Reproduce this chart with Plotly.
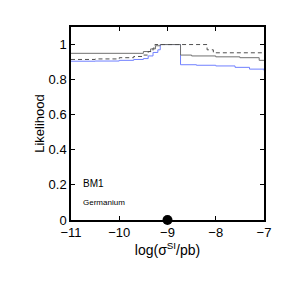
import plotly.graph_objects as go

# Data
solid_x = [-11, -9.5, -9.35, -9.25, -9.15, -8.73, -8.5, -8.0, -7.5, -7.1, -7]
solid_y = [0.95, 0.96, 0.975, 0.993, 1.0, 0.94, 0.935, 0.93, 0.925, 0.91, 0.91]

blue_x = [-11, -10.5, -10, -9.7, -9.5, -9.4, -9.3, -9.2, -9.15, -8.73, -8.4, -8.0, -7.6, -7.3, -7]
blue_y = [0.905, 0.906, 0.91, 0.915, 0.92, 0.935, 0.955, 0.97, 1.0, 0.885, 0.882, 0.878, 0.87, 0.86, 0.852]

dash_x = [-11, -10.5, -10, -9.7, -9.5, -9.4, -9.3, -9.26, -8.18, -8.05, -7]
dash_y = [0.915, 0.918, 0.925, 0.932, 0.94, 0.96, 0.98, 1.0, 0.97, 0.953, 0.953]

marker_x = [-9]
marker_y = [0]

x_ticks = [-11, -10, -9, -8, -7]
x_tick_text = ["\u221211", "\u221210", "\u22129", "\u22128", "\u22127"]
y_ticks = [0, 0.2, 0.4, 0.6, 0.8, 1]
y_tick_text = ["0", "0.2", "0.4", "0.6", "0.8", "1"]

fig = go.Figure()
fig.add_trace(go.Scatter(x=blue_x, y=blue_y, mode="lines", line_shape="hv",
                         line=dict(color="#7080ff", width=1), hoverinfo="skip"))
fig.add_trace(go.Scatter(x=solid_x, y=solid_y, mode="lines", line_shape="hv",
                         line=dict(color="#707070", width=1), hoverinfo="skip"))
fig.add_trace(go.Scatter(x=dash_x, y=dash_y, mode="lines", line_shape="hv",
                         line=dict(color="#505050", width=1, dash="4px,3px"), hoverinfo="skip"))
fig.add_trace(go.Scatter(x=marker_x, y=marker_y, mode="markers", cliponaxis=False,
                         marker=dict(color="black", size=10), hoverinfo="skip"))

axis_common = dict(showline=True, linecolor="black", linewidth=1.5, mirror="ticks",
                   ticks="inside", ticklen=4, tickwidth=1, tickcolor="black",
                   showgrid=False, zeroline=False,
                   tickfont=dict(family="Liberation Sans, Arial", size=13, color="black"))

fig.update_layout(
    width=291, height=291,
    margin=dict(l=63, r=35, t=19, b=79),
    paper_bgcolor="white", plot_bgcolor="white",
    showlegend=False,
    font=dict(family="Liberation Sans, Arial", color="black"),
    xaxis=dict(range=[-11, -7], tickvals=x_ticks, ticktext=x_tick_text,
               title=dict(text="log(\u03c3<sup>SI</sup>/pb)", font=dict(size=14), standoff=2), **axis_common),
    yaxis=dict(range=[0, 1.1], tickvals=y_ticks, ticktext=y_tick_text,
               title=dict(text="Likelihood", font=dict(size=13), standoff=1), **axis_common),
    annotations=[
        dict(x=-10.8, y=0.21, xref="x", yref="y", text="BM1", showarrow=False,
             xanchor="left", font=dict(size=10, color="#000000")),
        dict(x=-10.8, y=0.1, xref="x", yref="y", text="Germanium", showarrow=False,
             xanchor="left", font=dict(size=8, color="#000000")),
    ],
)

fig.write_html("out.html")
